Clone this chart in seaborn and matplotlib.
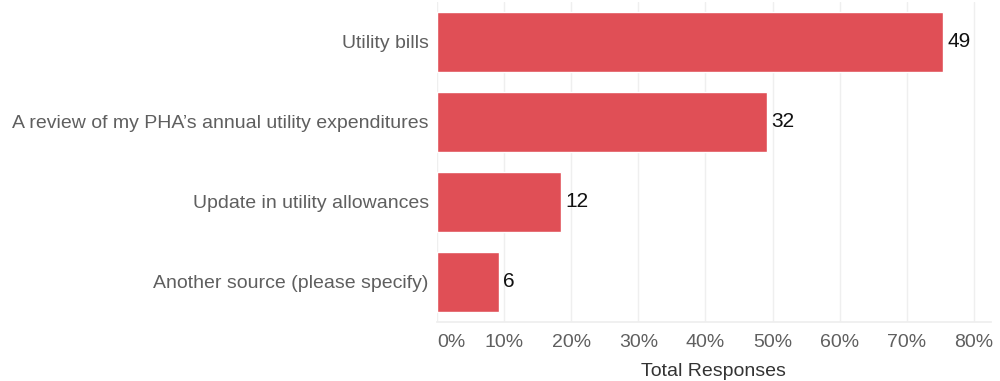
import pandas as pd
import matplotlib.pyplot as plt
import seaborn as sns
from matplotlib.ticker import PercentFormatter

# survey answers (total respondents = 65)
categories = ["Utility bills",
              "A review of my PHA\u2019s annual utility expenditures",
              "Update in utility allowances",
              "Another source (please specify)"]
counts = [49, 32, 12, 6]
total_respondents = 65

df = pd.DataFrame({"Source": categories, "Count": counts})
df["Share"] = df["Count"] / total_respondents

sns.set_theme(style="white")
plt.rcParams['font.family'] = ['Liberation Sans', 'DejaVu Sans']

fig = plt.figure(figsize=(10, 3.81), dpi=100)
ax = fig.add_axes([0.437, 0.155, 0.5536, 0.84])

sns.barplot(data=df, x="Share", y="Source", orient="h", color="#e04f56",
            saturation=1, width=0.75, ax=ax)

# count labels at bar ends
for container in ax.containers:
    ax.bar_label(container, labels=[str(c) for c in counts], padding=3,
                 fontsize=15, color="#111111")

ax.set_xlim(0, 0.825)
ax.set_xticks([i / 10 for i in range(9)])
ax.xaxis.set_major_formatter(PercentFormatter(1.0, decimals=0))
ax.grid(axis="x", color="#efefef", linewidth=1)
ax.set_axisbelow(True)

for side in ["top", "right", "left"]:
    ax.spines[side].set_visible(False)
ax.spines["bottom"].set_color("#eeeeee")

ax.tick_params(axis="both", length=0, labelsize=14, colors="#5f5f5f")
ax.tick_params(axis="y", pad=6)
ax.tick_params(axis="x", pad=9)
ax.get_xticklabels()[0].set_horizontalalignment("left")

ax.set_ylabel("")
ax.set_xlabel("Total Responses", fontsize=14, color="#333333", labelpad=8)

plt.savefig("out.png", dpi=100)
